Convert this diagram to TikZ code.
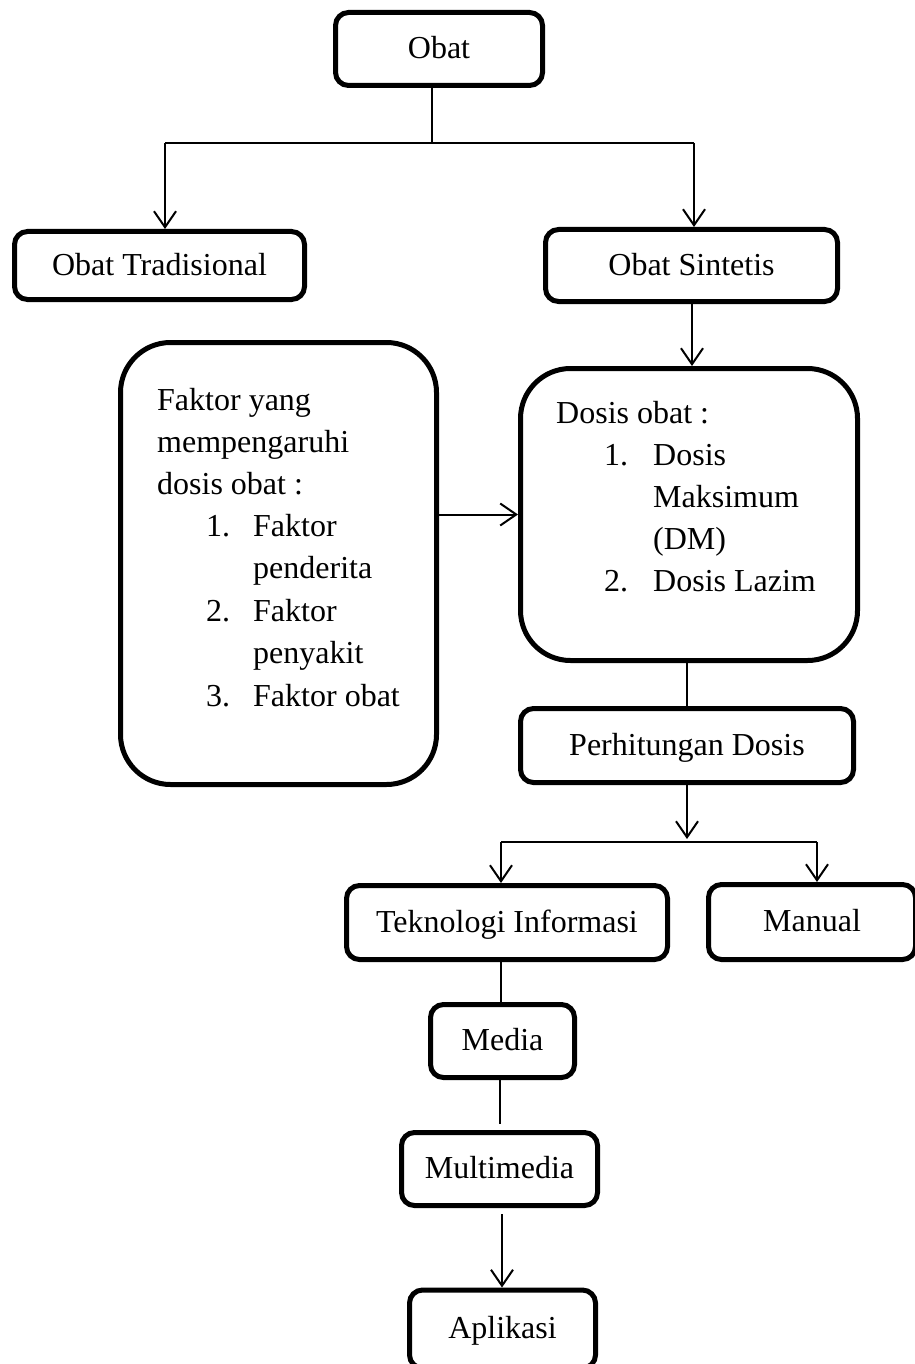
\documentclass[tikz,border=0pt]{standalone}
\usepackage{fontspec}
\setmainfont{Liberation Serif}
\usetikzlibrary{arrows.meta}
\begin{document}
\begin{tikzpicture}[x=1pt,y=-1pt,
  box/.style={draw, line width=5pt, rounded corners=13pt, inner sep=0pt, text height=22pt, text depth=3pt, font=\fontsize{32}{42}\selectfont},
  bigbox/.style={draw, line width=5pt, rounded corners=50pt, inner sep=0pt},
  txt/.style={anchor=base west, inner sep=0pt, font=\fontsize{32}{42}\selectfont},
  conn/.style={line width=2pt},
  arr/.style={line width=2pt, -{Straight Barb[length=16pt,width=22pt,line width=2pt]}}]
\useasboundingbox (0,0) rectangle (914,1364);

% boxes
\node[box, minimum width=207pt, minimum height=73pt] (obat) at (439,49) {Obat};
\node[box, minimum width=290pt, minimum height=68pt] (trad) at (159.5,265.5) {Obat Tradisional};
\node[box, minimum width=292pt, minimum height=72pt] (sint) at (691.5,265.5) {Obat Sintetis};
\node[bigbox, minimum width=316pt, minimum height=442pt] (faktor) at (278.5,563.5) {};
\node[bigbox, minimum width=337pt, minimum height=292pt] (dosis) at (689,514.5) {};
\node[box, minimum width=333pt, minimum height=74pt] (hitung) at (687,745.5) {Perhitungan Dosis};
\node[box, minimum width=321pt, minimum height=74pt] (ti) at (507,922.5) {Teknologi Informasi};
\node[box, minimum width=207pt, minimum height=75pt] (manual) at (812,922) {Manual};
\node[box, minimum width=144pt, minimum height=73pt] (media) at (502.5,1041) {Media};
\node[box, minimum width=196pt, minimum height=73pt] (multi) at (499.5,1169) {Multimedia};
\node[box, minimum width=186pt, minimum height=78pt] (apl) at (502.5,1329) {Aplikasi};

% text in Faktor box
\node[txt] (f1) at (157,410) {Faktor yang};
\node[txt] (f2) at (157,452) {mempengaruhi};
\node[txt] (f3) at (157,494) {dosis obat :};
\node[txt] (f4n) at (206,536) {1.};
\node[txt] (f4) at (253,536) {Faktor};
\node[txt] (f5) at (253,578) {penderita};
\node[txt] (f6n) at (206,621) {2.};
\node[txt] (f6) at (253,621) {Faktor};
\node[txt] (f7) at (253,663) {penyakit};
\node[txt] (f8n) at (206,706) {3.};
\node[txt] (f8) at (253,706) {Faktor obat};

% text in Dosis box
\node[txt] (d1) at (556,423) {Dosis obat :};
\node[txt] (d2n) at (604,465) {1.};
\node[txt] (d2) at (653,465) {Dosis};
\node[txt] (d3) at (653,507) {Maksimum};
\node[txt] (d4) at (653,549) {(DM)};
\node[txt] (d5n) at (604,591) {2.};
\node[txt] (d5) at (653,591) {Dosis Lazim};

% connectors
\coordinate (j0) at (432,143);
\coordinate (jl) at (165,143);
\coordinate (jr) at (694,143);
\draw[conn] (obat.south -| j0) -- (j0);
\draw[conn] (jl) -- (jr);
\draw[arr] (jl) -- (jl |- trad.north);
\draw[arr] (jr) -- (jr |- sint.north);

\coordinate (k1) at (692,300);
\draw[arr] (sint.south -| k1) -- (dosis.north -| k1);
\draw[arr] (faktor.east |- dosis.west) -- (dosis.west);
\draw[conn] (dosis.south -| hitung.north) -- (hitung.north);

\coordinate (j2) at (687,839);
\coordinate (j2l) at (501,842);
\coordinate (j2r) at (817,842);
\draw[arr] (hitung.south -| j2) -- (j2);
\draw[conn] (j2l) -- (j2r);
\draw[arr] (j2l) -- (j2l |- ti.north);
\draw[arr] (j2r) -- (j2r |- manual.north);

\coordinate (m1) at (501,980);
\draw[conn] (ti.south -| m1) -- (media.north -| m1);
\coordinate (m2) at (500,1100);
\draw[conn] (media.south -| m2) -- ([yshift=6pt]multi.north -| m2);
\coordinate (m3) at (502,1250);
\draw[arr] ([yshift=-6pt]multi.south -| m3) -- (apl.north -| m3);
\end{tikzpicture}
\end{document}
